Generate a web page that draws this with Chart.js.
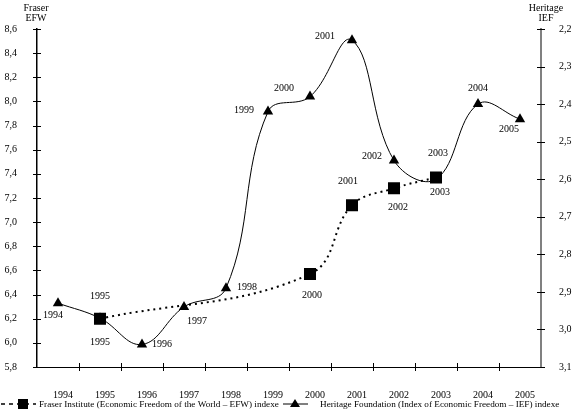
<!DOCTYPE html>
<html>
<head>
<meta charset="utf-8">
<script src="https://cdn.jsdelivr.net/npm/chart.js@4/dist/chart.umd.min.js"></script>
<style>
  html, body { margin: 0; background: #fff; }
  #wrap { width: 580px; height: 420px; position: relative; }
</style>
</head>
<body>
<div id="wrap"><canvas id="c" width="580" height="420"></canvas></div>
<script>
// ── data ──
const years = ['1994', '1995', '1996', '1997', '1998', '1999', '2000', '2001', '2002', '2003', '2004', '2005'];
const fraserEFW   = [null, 6.2, null, null, null, null, 6.57, 7.14, 7.28, 7.37, null, null];
const heritageIEF = [2.93, 2.97, 3.04, 2.94, 2.89, 2.42, 2.38, 2.23, 2.55, 2.60, 2.40, 2.44];
const efwTicks = [5.8, 6.0, 6.2, 6.4, 6.6, 6.8, 7.0, 7.2, 7.4, 7.6, 7.8, 8.0, 8.2, 8.4, 8.6];
const iefTicks = [2.2, 2.3, 2.4, 2.5, 2.6, 2.7, 2.8, 2.9, 3.0, 3.1];

// year label placement next to each point (dx, dy in px)
const fraserLblPos   = [null, [0, 24], null, null, null, null, [2, 21], [-4, -24], [4, 19], [4, 15], null, null];
const heritageLblPos = [[-5, 12], [0, -22], [20, 0], [13, 14], [21, -1], [-24, -1], [-26, -8], [-27, -4], [-22, -4], [2, -26], [0, -16], [-11, 10]];

const FONT = '"Liberation Serif", "DejaVu Serif", serif';
const comma = v => Number(v).toFixed(1).replace('.', ',');

// inner/outer tick marks + year labels + titles + legend
const decor = {
  id: 'decor',
  afterDraw(chart) {
    const { ctx, chartArea: a } = chart;
    const yL = chart.scales.yL, yR = chart.scales.yR;
    ctx.save();
    ctx.lineWidth = 1;
    ctx.strokeStyle = '#000';
    efwTicks.forEach(v => {
      const y = Math.round(yL.getPixelForValue(v)) + 0.5;
      ctx.beginPath(); ctx.moveTo(a.left - 4, y); ctx.lineTo(a.left + 4, y); ctx.stroke();
    });
    iefTicks.forEach(v => {
      const y = Math.round(yR.getPixelForValue(v)) + 0.5;
      ctx.beginPath(); ctx.moveTo(a.right - 4, y); ctx.lineTo(a.right + 4, y); ctx.stroke();
    });
    const w = (a.right - a.left) / years.length;
    for (let i = 1; i < years.length; i++) {
      const x = Math.round(a.left + i * w) + 0.5;
      ctx.beginPath(); ctx.moveTo(x, a.bottom - 4); ctx.lineTo(x, a.bottom + 4); ctx.stroke();
    }

    // year labels beside the markers
    ctx.fillStyle = '#000';
    ctx.font = '10px ' + FONT;
    ctx.textAlign = 'center';
    ctx.textBaseline = 'middle';
    [[0, fraserLblPos], [1, heritageLblPos]].forEach(([di, pos]) => {
      chart.getDatasetMeta(di).data.forEach((pt, i) => {
        if (!pos[i] || chart.data.datasets[di].data[i] == null) return;
        ctx.fillText(years[i], pt.x + pos[i][0], pt.y + pos[i][1]);
      });
    });

    // axis titles
    ctx.font = '10px ' + FONT;
    ctx.fillText('Fraser', a.left - 1, 8);
    ctx.fillText('EFW', a.left - 1, 18);
    ctx.fillText('Heritage', a.right + 5, 8);
    ctx.fillText('IEF', a.right + 5, 18);

    // legend
    const ly = 404;
    ctx.setLineDash([4, 4]);
    ctx.lineWidth = 1.5;
    ctx.beginPath(); ctx.moveTo(1, ly); ctx.lineTo(36, ly); ctx.stroke();
    ctx.setLineDash([]);
    ctx.fillRect(18, ly - 5, 10, 10);
    ctx.textAlign = 'left';
    ctx.font = '9.2px ' + FONT;
    ctx.fillText('Fraser Institute (Economic Freedom of the World \u2013 EFW) indexe', 39, ly + 1);
    ctx.lineWidth = 1;
    ctx.beginPath(); ctx.moveTo(283, ly); ctx.lineTo(308, ly); ctx.stroke();
    ctx.beginPath();
    ctx.moveTo(295, ly - 5); ctx.lineTo(300, ly + 3); ctx.lineTo(290, ly + 3);
    ctx.closePath(); ctx.fill();
    ctx.fillText('Heritage Foundation (Index of Economic Freedom \u2013 IEF) indexe', 320, ly + 1);
    ctx.restore();
  }
};

new Chart(document.getElementById('c'), {
  type: 'line',
  data: {
    labels: years,
    datasets: [
      {
        label: 'Fraser Institute (Economic Freedom of the World – EFW) indexe',
        data: fraserEFW,
        yAxisID: 'yL',
        spanGaps: true,
        borderColor: '#000',
        borderWidth: 2,
        borderDash: [2, 4],
        tension: 0.4,
        pointStyle: 'rect',
        pointRadius: 8.5,
        pointHoverRadius: 8.5,
        pointBackgroundColor: '#000',
        pointBorderColor: '#000',
        pointBorderWidth: 0
      },
      {
        label: 'Heritage Foundation (Index of Economic Freedom – IEF) indexe',
        data: heritageIEF,
        yAxisID: 'yR',
        borderColor: '#000',
        borderWidth: 1,
        tension: 0.4,
        pointStyle: 'triangle',
        pointRadius: 6,
        pointHoverRadius: 6,
        pointBackgroundColor: '#000',
        pointBorderColor: '#000',
        pointBorderWidth: 0
      }
    ]
  },
  options: {
    responsive: false,
    animation: false,
    devicePixelRatio: 1,
    layout: { padding: { top: 29, left: 0, right: 0, bottom: 0 } },
    plugins: { legend: { display: false }, tooltip: { enabled: false } },
    scales: {
      x: {
        offset: true,
        grid: { display: false, offset: true },
        border: { display: true, color: '#000', width: 1 },
        ticks: { color: '#000', font: { family: FONT, size: 10 }, padding: 14, labelOffset: 5, maxRotation: 0 },
        afterFit: s => { s.height = 53; }
      },
      yL: {
        position: 'left',
        min: 5.8, max: 8.6,
        grid: { display: false },
        border: { display: true, color: '#000', width: 1.5 },
        afterBuildTicks: s => { s.ticks = efwTicks.map(v => ({ value: v })); },
        ticks: { color: '#000', font: { family: FONT, size: 10 }, padding: 12, callback: v => comma(v) },
        afterFit: s => { s.width = 37; }
      },
      yR: {
        position: 'right',
        reverse: true,
        min: 2.2, max: 3.1,
        grid: { display: false },
        border: { display: true, color: '#808080', width: 2 },
        afterBuildTicks: s => { s.ticks = iefTicks.map(v => ({ value: v })); },
        ticks: { color: '#000', font: { family: FONT, size: 10 }, padding: 10, callback: v => comma(v) },
        afterFit: s => { s.width = 39; }
      }
    }
  },
  plugins: [decor]
});
</script>
</body>
</html>
